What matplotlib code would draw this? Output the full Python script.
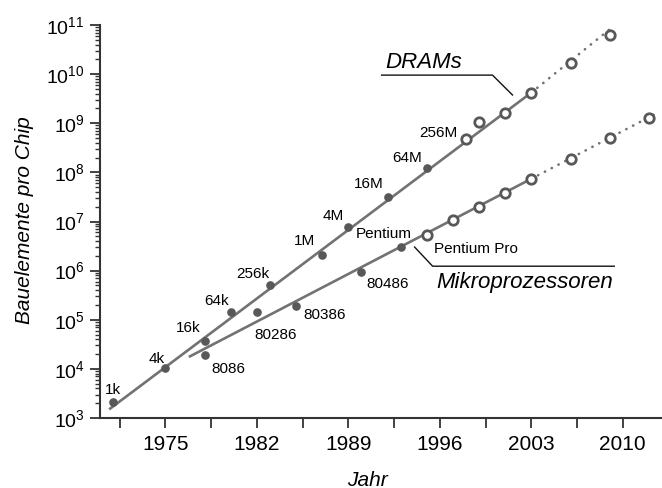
import math
import matplotlib
matplotlib.use('Agg')
import matplotlib.pyplot as plt
from matplotlib.ticker import FixedLocator, LogLocator, NullFormatter, FuncFormatter

plt.rcParams['font.family'] = ['Liberation Sans', 'DejaVu Sans']
plt.rcParams['mathtext.fontset'] = 'custom'
plt.rcParams['mathtext.rm'] = 'Liberation Sans'
plt.rcParams['mathtext.it'] = 'Liberation Sans:italic'

# DRAMs - erreichte Generationen (gefuellte Punkte)
dram_jahre = [1971, 1975, 1978, 1980, 1983, 1987, 1989, 1992, 1995]
dram_werte = [2.1e3, 1.05e4, 3.7e4, 1.45e5, 5.1e5, 2.1e6, 7.8e6, 3.2e7, 1.2e8]
dram_namen = ['1k', '4k', '16k', '64k', '256k', '1M', '4M', '16M', '64M']
# DRAMs - Roadmap (offene Kreise)
dram_plan_jahre = [1998, 1999, 2001, 2003, 2006, 2009]
dram_plan_werte = [4.8e8, 1.07e9, 1.6e9, 4.2e9, 1.7e10, 6.3e10]
# Trendlinie DRAMs: Start, Ende durchgezogen, Ende gepunktet
dram_trend_jahre = [1970.7, 2003, 2009.3]
dram_trend_werte = [1.5e3, 4.2e9, 9.5e10]

# Mikroprozessoren
mp_jahre = [1978, 1982, 1985, 1990, 1993]
mp_werte = [1.9e4, 1.45e5, 1.9e5, 9.4e5, 3.0e6]
mp_namen = ['8086', '80286', '80386', '80486', 'Pentium']
mp_plan_jahre = [1995, 1997, 1999, 2001, 2003, 2006, 2009, 2012]
mp_plan_werte = [5.4e6, 1.07e7, 2.0e7, 3.8e7, 7.4e7, 1.9e8, 5.0e8, 1.3e9]
mp_trend_jahre = [1976.8, 2003, 2012.6]
mp_trend_werte = [1.75e4, 7.4e7, 1.6e9]

x_ticks = [1975, 1982, 1989, 1996, 2003, 2010]

linie = '#727272'
punkt = '#585858'

fig = plt.figure(figsize=(6.62, 4.88), dpi=100)
ax = fig.add_axes([100 / 662, 1 - 418 / 488, 562 / 662, (418 - 25) / 488])
ax.set_yscale('log')
ax.set_xlim(1970, 2013)
ax.set_ylim(1e3, 1e11)

for tj, tw in [(dram_trend_jahre, dram_trend_werte), (mp_trend_jahre, mp_trend_werte)]:
    ax.plot(tj[:2], tw[:2], color=linie, lw=1.9, solid_capstyle='butt', zorder=2)
    ax.plot(tj[1:], tw[1:], color=linie, lw=1.9, ls=(0, (0.1, 2.8)), dash_capstyle='round', zorder=2)

ax.plot(dram_jahre, dram_werte, 'o', color=punkt, ms=5.2, zorder=3)
ax.plot(mp_jahre, mp_werte, 'o', color=punkt, ms=5.2, zorder=3)
ax.plot(dram_plan_jahre, dram_plan_werte, 'o', mfc='white', mec=punkt, mew=2.0, ms=6.8, zorder=3)
ax.plot(mp_plan_jahre, mp_plan_werte, 'o', mfc='white', mec=punkt, mew=2.0, ms=6.8, zorder=3)

# Beschriftung der Speichergenerationen
dram_off = [(8, 8), (-1, 5), (-4, 9), (-2, 7), (-1, 7), (-7, 10), (-4, 7), (-4, 9), (-5, 6)]
for j, w, n, o in zip(dram_jahre, dram_werte, dram_namen, dram_off):
    ax.annotate(n, (j, w), xytext=o, textcoords='offset pixels', ha='right', va='baseline', fontsize=11)
ax.annotate('256M', (dram_plan_jahre[0], dram_plan_werte[0]), xytext=(-8, 2),
            textcoords='offset pixels', ha='right', va='baseline', fontsize=11)

mp_off = [(7, -7), (-2, -16), (7, -2), (5, -5)]
for j, w, n, o in zip(mp_jahre[:4], mp_werte[:4], mp_namen[:4], mp_off):
    ax.annotate(n, (j, w), xytext=o, textcoords='offset pixels', ha='left', va='top', fontsize=11)
ax.annotate(mp_namen[4], (mp_jahre[4], mp_werte[4]), xytext=(-17, 9), textcoords='offset pixels',
            ha='center', va='baseline', fontsize=11)
ax.annotate('Pentium Pro', (mp_plan_jahre[0], mp_plan_werte[0]), xytext=(7, -7),
            textcoords='offset pixels', ha='left', va='top', fontsize=11)

# Kurvennamen mit Fuehrungslinien
ax.plot([1991.55, 2000.03, 2001.56], [10**9.98, 10**9.98, 10**9.575], color='#111111', lw=1.0, zorder=1)
ax.text(1991.8, 10**10.12, 'DRAMs', fontsize=16, style='italic', ha='left', va='baseline')
ax.plot([1994.07, 1995.45, 2009.35], [10**6.48, 10**6.09, 10**6.09], color='#111111', lw=1.0, zorder=1)
ax.text(1995.75, 10**5.65, 'Mikroprozessoren', fontsize=16, style='italic', ha='left', va='baseline')

# Achsen
for s in ['top', 'right']:
    ax.spines[s].set_visible(False)
for s in ['left', 'bottom']:
    ax.spines[s].set_color('#333333')
    ax.spines[s].set_linewidth(1.5)

ax.xaxis.set_major_locator(FixedLocator(x_ticks))
ax.xaxis.set_minor_locator(FixedLocator([t - 3.5 for t in x_ticks]))
ax.tick_params(axis='x', which='both', direction='out', length=7, width=1.3, color='#333333',
               labelsize=15, pad=5)
ax.yaxis.set_major_locator(LogLocator(base=10, numticks=20))
ax.yaxis.set_minor_locator(LogLocator(base=10, subs=range(2, 10), numticks=20))
ax.yaxis.set_minor_formatter(NullFormatter())
ax.yaxis.set_major_formatter(FuncFormatter(lambda v, p: r'$\mathregular{10^{%d}}$' % round(math.log10(v))))
ax.tick_params(axis='y', which='major', direction='out', length=7, width=1.3, color='#333333',
               labelsize=14, pad=4)
ax.tick_params(axis='y', which='minor', direction='out', length=3.5, width=1.0, color='#333333')

ax.set_xlabel('Jahr', fontsize=15, style='italic')
ax.xaxis.set_label_coords((367 - 100) / 562, -(471 - 418) / 393)
ax.set_ylabel('Bauelemente pro Chip', fontsize=15, style='italic')
ax.yaxis.set_label_coords(-(100 - 34) / 562, (418 - 220) / 393)

fig.savefig('out.png', dpi=100)
